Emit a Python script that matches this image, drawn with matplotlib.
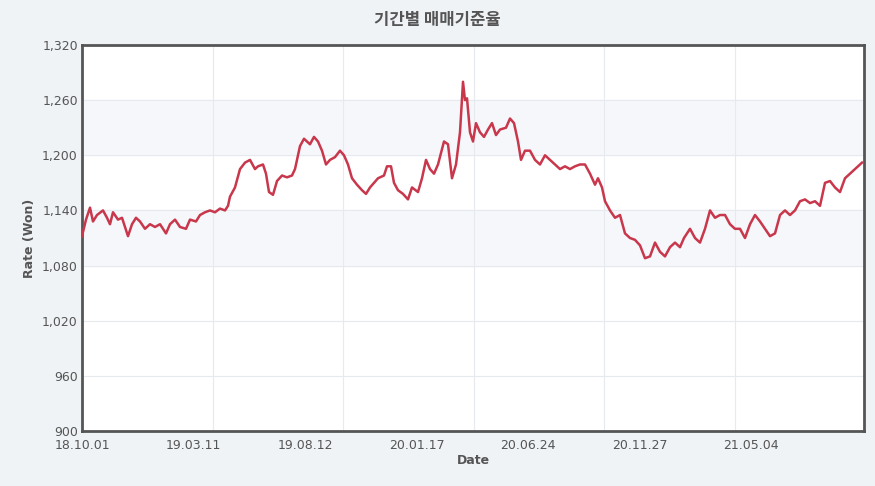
import numpy as np
import matplotlib.pyplot as plt
from matplotlib.ticker import FuncFormatter, MultipleLocator

plt.rcParams['font.family'] = ['DejaVu Sans', 'Noto Sans CJK KR']

# trading day index (approx.) and rate in won
days = [0, 4, 8, 11, 15, 21, 25, 28, 31, 36, 40, 46, 50, 54, 58, 63, 68, 73, 78, 84,
        88, 93, 98, 104, 108, 114, 118, 123, 128, 133, 138, 143, 146, 148, 153, 158, 163, 168, 173, 176,
        181, 184, 187, 191, 195, 200, 205, 210, 213, 218, 222, 228, 232, 236, 240, 244, 248, 253, 258, 262,
        266, 270, 275, 280, 284, 288, 292, 296, 302, 305, 309, 312, 316, 321, 326, 330, 336, 340, 344, 348,
        352, 356, 362, 366, 370, 374, 378, 381, 383, 385, 388, 391, 394, 398, 402, 406, 410, 414, 418, 424,
        428, 432, 436, 439, 443, 448, 453, 458, 463, 468, 473, 478, 483, 488, 493, 498, 503, 508, 513, 516,
        520, 523, 528, 533, 538, 543, 548, 553, 558, 563, 568, 573, 578, 583, 588, 593, 598, 602, 608, 613,
        618, 623, 628, 633, 638, 643, 648, 653, 658, 663, 668, 673, 678, 683, 688, 693, 698, 703, 708, 713,
        718, 723, 728, 733, 738, 743, 748, 753, 758, 763, 768, 773, 778, 780]
rate = [1112, 1130, 1143, 1128, 1135, 1140, 1132, 1125, 1138, 1130, 1132, 1112, 1125, 1132, 1128, 1120, 1125, 1122, 1125, 1115,
        1125, 1130, 1122, 1120, 1130, 1128, 1135, 1138, 1140, 1138, 1142, 1140, 1145, 1155, 1165, 1185, 1192, 1195, 1185, 1188,
        1190, 1180, 1160, 1157, 1172, 1178, 1176, 1178, 1185, 1210, 1218, 1212, 1220, 1215, 1205, 1190, 1195, 1198, 1205, 1200,
        1190, 1175, 1168, 1162, 1158, 1165, 1170, 1175, 1178, 1188, 1188, 1170, 1162, 1158, 1152, 1165, 1160, 1175, 1195, 1185,
        1180, 1190, 1215, 1212, 1175, 1190, 1225, 1280, 1260, 1262, 1225, 1215, 1235, 1225, 1220, 1228, 1235, 1222, 1228, 1230,
        1240, 1235, 1215, 1195, 1205, 1205, 1195, 1190, 1200, 1195, 1190, 1185, 1188, 1185, 1188, 1190, 1190, 1180, 1168, 1175,
        1165, 1150, 1140, 1132, 1135, 1115, 1110, 1108, 1102, 1088, 1090, 1105, 1095, 1090, 1100, 1105, 1100, 1110, 1120, 1110,
        1105, 1120, 1140, 1132, 1135, 1135, 1125, 1120, 1120, 1110, 1125, 1135, 1128, 1120, 1112, 1115, 1135, 1140, 1135, 1140,
        1150, 1152, 1148, 1150, 1145, 1170, 1172, 1165, 1160, 1175, 1180, 1185, 1190, 1192]

tick_days = [0, 111.5, 223, 334.5, 446, 557.5, 669]
tick_labels = ['18.10.01', '19.03.11', '19.08.12', '20.01.17', '20.06.24', '20.11.27', '21.05.04']

fig = plt.figure(figsize=(8.75, 4.86), dpi=100, facecolor='#eff3f6')
ax = fig.add_axes([82 / 875, 1 - 431 / 486, 782 / 875, 386 / 486])
ax.set_facecolor('white')

# alternating bands
for lo in (1080, 1200):
    ax.axhspan(lo, lo + 60, color='#f5f7fa', zorder=0)

ax.plot(days, rate, color='#c8374b', lw=1.8, zorder=3)

ax.set_xlim(0, 782)
ax.set_ylim(900, 1320)
ax.yaxis.set_major_locator(MultipleLocator(60))
ax.yaxis.set_major_formatter(FuncFormatter(lambda v, p: f'{int(v):,}'))
ax.set_xticks(tick_days)
ax.set_xticklabels(tick_labels)
ax.xaxis.set_minor_locator(MultipleLocator(130.5))
ax.grid(True, axis='y', color='#e6e9ee', lw=0.8)
ax.grid(True, axis='x', which='minor', color='#e6e9ee', lw=0.8)
ax.tick_params(axis='both', which='both', length=0, labelsize=9, colors='#555555')
ax.tick_params(axis='x', pad=6)
ax.tick_params(axis='y', pad=3)

for s in ax.spines.values():
    s.set_color('#555555')
    s.set_linewidth(2)

ax.set_xlabel('Date', fontsize=9, fontweight='bold', color='#555555', labelpad=1)
ax.set_ylabel('Rate (Won)', fontsize=9, fontweight='bold', color='#555555', labelpad=4)
fig.text(0.5, 1 - 20 / 486, '기간별 매매기준율', ha='center', va='center',
         fontsize=12, fontweight='bold', color='#555555', family=['Noto Sans CJK KR', 'DejaVu Sans'])

fig.savefig('out.png', dpi=100, facecolor=fig.get_facecolor())
